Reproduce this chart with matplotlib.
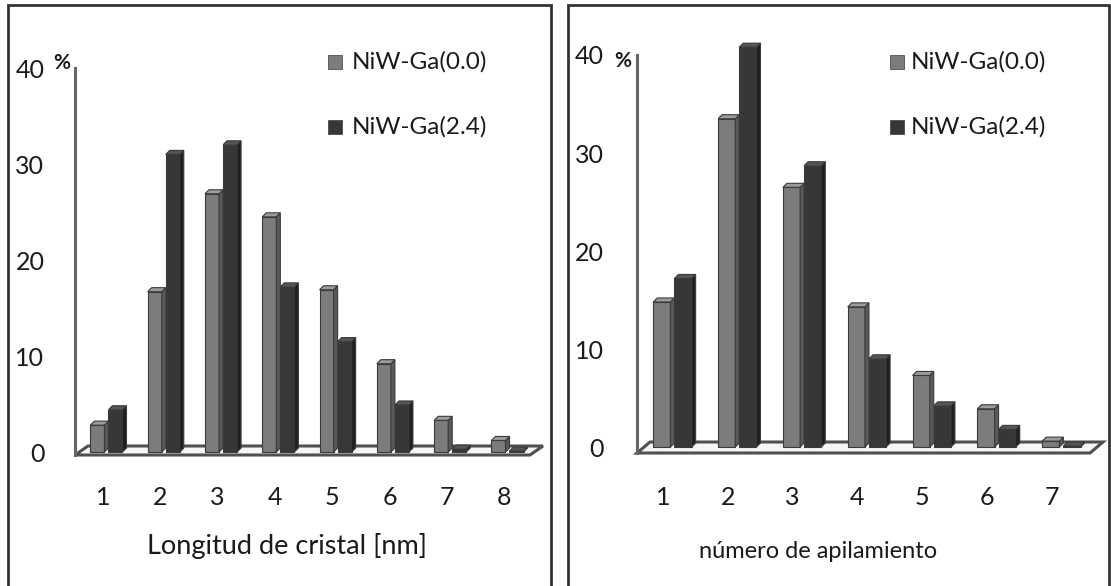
import matplotlib
matplotlib.use("Agg")
import matplotlib.pyplot as plt
from matplotlib.patches import Polygon, Rectangle

# ---------------- data ----------------
series_names = ["NiW-Ga(0.0)", "NiW-Ga(2.4)"]

left_categories = [1, 2, 3, 4, 5, 6, 7, 8]
left_ga00 = [2.8, 16.7, 26.9, 24.5, 16.9, 9.2, 3.3, 1.2]
left_ga24 = [4.4, 31.0, 32.0, 17.2, 11.5, 4.9, 0.3, 0.1]
left_xlabel = "Longitud de cristal [nm]"

right_categories = [1, 2, 3, 4, 5, 6, 7]
right_ga00 = [14.8, 33.5, 26.5, 14.3, 7.3, 3.9, 0.6]
right_ga24 = [17.2, 40.8, 28.7, 9.0, 4.2, 1.8, 0.1]
right_xlabel = "número de apilamiento"

y_ticks = [0, 10, 20, 30, 40]

# ---------------- style ----------------
W, H = 1111, 586
FONT = "Lato"
plt.rcParams["font.family"] = [FONT, "DejaVu Sans"]

front_cols = ["#7c7c7c", "#373737"]
side_cols = ["#5a5a5a", "#1f1f1f"]
top_cols = ["#9c9c9c", "#555555"]
edge_col = "#3a3a3a"

fig = plt.figure(figsize=(W / 100, H / 100), dpi=100)
fig.patch.set_facecolor("white")


def fx(x):
    return x / W


def fy(y):
    return 1 - y / H


def panel(px_left, px_right, px_bottom, px_top, xlim, ylim, cats, s0, s1,
          bar_w, bar_dx_px, bar_dy_px, off, floor_dx_px, floor_dy_px,
          ytick_pad, xtick_pad):
    ax = fig.add_axes([fx(px_left), fy(px_bottom), (px_right - px_left) / W,
                       (px_bottom - px_top) / H])
    ax.set_xlim(*xlim)
    ax.set_ylim(*ylim)
    ux = (px_right - px_left) / (xlim[1] - xlim[0])
    uy = (px_bottom - px_top) / (ylim[1] - ylim[0])
    for s in ax.spines.values():
        s.set_visible(False)
    ax.set_facecolor("none")

    # floor slab + wall
    fdx = floor_dx_px / ux
    fdy = floor_dy_px / uy
    x0, x1 = xlim
    y0 = ylim[0]
    floor = Polygon([(x0, y0), (x1, y0), (x1 + fdx, y0 + fdy), (x0 + fdx, y0 + fdy)],
                    closed=True, facecolor="#f6f6f6", edgecolor="#505050",
                    lw=2.2, zorder=1, clip_on=False)
    ax.add_patch(floor)
    ax.plot([x0, x0], [y0, 40], color="#666666", lw=2.2, zorder=1, clip_on=False)

    bdx = bar_dx_px / ux
    bdy = bar_dy_px / uy
    for k, vals in enumerate([s0, s1]):
        lefts = [c + off + k * (bar_w + bdx) for c in cats]
        bars = ax.bar(lefts, vals, width=bar_w, align="edge", color=front_cols[k],
                      edgecolor=edge_col, linewidth=0.8, zorder=3 + k * 2)
        for b in bars:
            b.set_clip_on(False)
        for l, v in zip(lefts, vals):
            r = l + bar_w
            side = Polygon([(r, 0), (r + bdx, bdy), (r + bdx, v + bdy), (r, v)],
                           closed=True, facecolor=side_cols[k], edgecolor=edge_col,
                           lw=0.8, zorder=3 + k * 2, clip_on=False)
            top = Polygon([(l, v), (l + bdx, v + bdy), (r + bdx, v + bdy), (r, v)],
                          closed=True, facecolor=top_cols[k], edgecolor=edge_col,
                          lw=0.8, zorder=3 + k * 2, clip_on=False)
            ax.add_patch(side)
            ax.add_patch(top)

    ax.set_yticks(y_ticks)
    ax.set_yticklabels([str(t) for t in y_ticks])
    ax.set_xticks(cats)
    ax.set_xticklabels([str(c) for c in cats])
    ax.tick_params(axis="y", length=0, pad=ytick_pad, labelsize=18, colors="#1a1a1a")
    ax.tick_params(axis="x", length=0, pad=xtick_pad, labelsize=18, colors="#1a1a1a")
    return ax


axL = panel(75, 530, 455, 68, (0.511, 8.453), (-0.3125, 40.0), left_categories,
            left_ga00, left_ga24, bar_w=0.245, bar_dx_px=4, bar_dy_px=4, off=-0.22,
            floor_dx_px=13, floor_dy_px=9, ytick_pad=22, xtick_pad=22)
axR = panel(637, 1090, 453, 55, (0.599, 7.587), (-0.612, 40.0), right_categories,
            right_ga00, right_ga24, bar_w=0.265, bar_dx_px=4, bar_dy_px=4, off=-0.15,
            floor_dx_px=13, floor_dy_px=11, ytick_pad=24, xtick_pad=24)

# percent signs
fig.text(fx(62), fy(63), "%", fontsize=15, fontweight="bold", ha="center", va="center",
         color="#1a1a1a")
fig.text(fx(623), fy(61), "%", fontsize=15, fontweight="bold", ha="center", va="center",
         color="#1a1a1a")

# x-axis titles
fig.text(fx(287), fy(546), left_xlabel, fontsize=19.5, ha="center", va="center",
         color="#1a1a1a")
fig.text(fx(818), fy(551), right_xlabel, fontsize=17, ha="center", va="center",
         color="#1a1a1a")

# legends
for sq_x, tx_x in [(328, 352), (890, 911)]:
    for k, ty in enumerate([62, 127]):
        fig.add_artist(Rectangle((fx(sq_x), fy(ty + 7)), 14 / W, 14 / H,
                                 transform=fig.transFigure, facecolor=front_cols[k],
                                 edgecolor=edge_col, lw=0.5))
        fig.text(fx(tx_x), fy(ty), series_names[k], fontsize=17.5, ha="left",
                 va="center", color="#1a1a1a")

# panel borders
fig.add_artist(Rectangle((fx(8), -0.02), (551 - 8) / W, fy(5) + 0.02,
                         transform=fig.transFigure, fill=False,
                         edgecolor="#333333", lw=2))
fig.add_artist(Rectangle((fx(568), -0.02), (1109 - 568) / W, fy(5) + 0.02,
                         transform=fig.transFigure, fill=False,
                         edgecolor="#333333", lw=2))

fig.savefig("out.png", dpi=100, facecolor="white")
